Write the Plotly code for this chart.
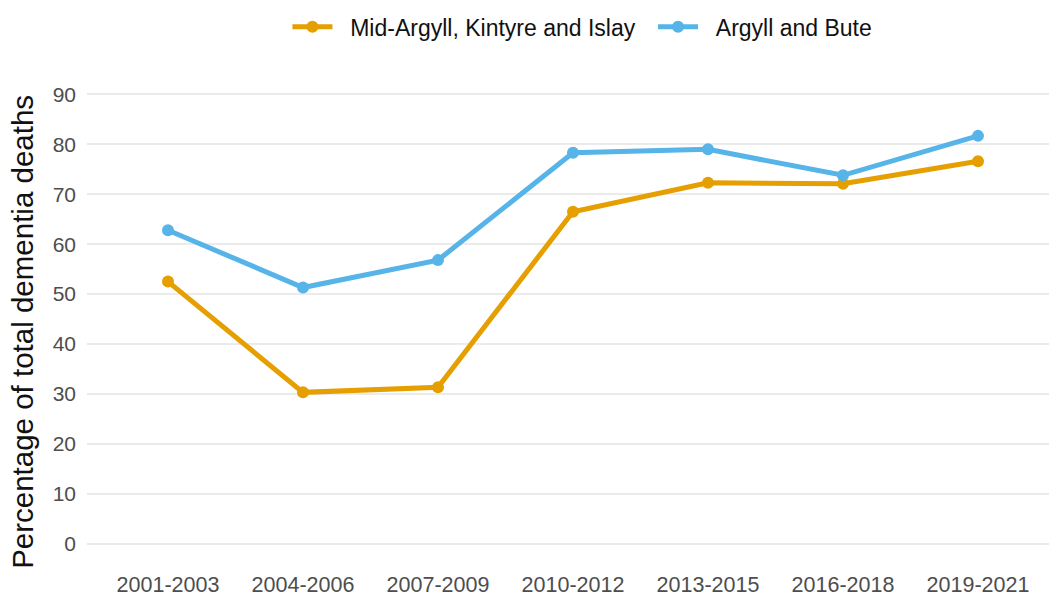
import plotly.graph_objects as go

periods = ["2001-2003", "2004-2006", "2007-2009", "2010-2012",
           "2013-2015", "2016-2018", "2019-2021"]
mid_argyll = [52.5, 30.3, 31.3, 66.5, 72.3, 72.1, 76.6]
argyll_bute = [62.8, 51.3, 56.8, 78.3, 79.0, 73.8, 81.7]
y_ticks = [0, 10, 20, 30, 40, 50, 60, 70, 80, 90]

FONT = "Liberation Sans, Arial, sans-serif"
NB = "\u00a0"

fig = go.Figure()
fig.add_trace(go.Scatter(
    x=periods, y=mid_argyll, name=NB * 2 + "Mid-Argyll, Kintyre and Islay" + NB * 2,
    mode="lines+markers",
    line=dict(color="#E69F00", width=5),
    marker=dict(color="#E69F00", size=12),
))
fig.add_trace(go.Scatter(
    x=periods, y=argyll_bute, name=NB * 2 + "Argyll and Bute",
    mode="lines+markers",
    line=dict(color="#56B4E9", width=5),
    marker=dict(color="#56B4E9", size=12),
))

fig.update_layout(
    width=1049, height=596,
    margin=dict(l=87, r=0, t=72, b=30, autoexpand=False),
    paper_bgcolor="white", plot_bgcolor="white",
    font=dict(family=FONT, size=21, color="#4D4D4D"),
    showlegend=True,
    legend=dict(
        orientation="h", x=0.515, xanchor="center",
        y=0.955, yref="container", yanchor="middle",
        font=dict(size=23, color="#111111", family=FONT),
        itemwidth=40,
    ),
    xaxis=dict(
        type="category", range=[-0.6, 6.526], automargin=False,
        showgrid=False, zeroline=False, showline=False,
        ticks="", ticklabelstandoff=3,
        tickfont=dict(size=21.5, color="#4D4D4D"),
    ),
    yaxis=dict(
        range=[-4.5, 94.5], tickvals=y_ticks, automargin=False,
        showgrid=True, gridcolor="#EBEBEB", gridwidth=2,
        zeroline=False, showline=False, ticks="", ticklabelstandoff=10,
        tickfont=dict(size=21, color="#4D4D4D"),
    ),
    annotations=[dict(
        text="Percentage of total dementia deaths",
        xref="paper", yref="paper", x=-0.0665, y=0.474,
        xanchor="center", yanchor="middle", textangle=-90,
        showarrow=False,
        font=dict(size=29.5, color="#111111", family=FONT),
    )],
)

fig.write_html("out.html")
